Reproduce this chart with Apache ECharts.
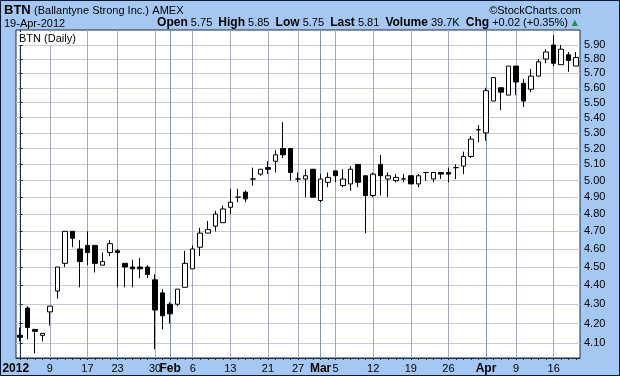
<!DOCTYPE html>
<html>
<head>
    <meta charset="utf-8">
    <title>BTN Daily</title>
    <script src="https://cdn.jsdelivr.net/npm/echarts@6/dist/echarts.min.js"></script>
</head>
<body>
<style>
    html, body {
        margin: 0;
        padding: 0;
        background: #a4c8f2;
    }
    #main {
        width: 620px;
        height: 376px;
    }
</style>
<div id="main"></div>
<script type="text/javascript">
    // trading days, 3 Jan - 19 Apr 2012
    var dates = [
        '2012-01-03', '2012-01-04', '2012-01-05', '2012-01-06', '2012-01-09', '2012-01-10', '2012-01-11', '2012-01-12',
        '2012-01-13', '2012-01-17', '2012-01-18', '2012-01-19', '2012-01-20', '2012-01-23', '2012-01-24', '2012-01-25',
        '2012-01-26', '2012-01-27', '2012-01-30', '2012-01-31', '2012-02-01', '2012-02-02', '2012-02-03', '2012-02-06',
        '2012-02-07', '2012-02-08', '2012-02-09', '2012-02-10', '2012-02-13', '2012-02-14', '2012-02-15', '2012-02-16',
        '2012-02-17', '2012-02-21', '2012-02-22', '2012-02-23', '2012-02-24', '2012-02-27', '2012-02-28', '2012-02-29',
        '2012-03-01', '2012-03-02', '2012-03-05', '2012-03-06', '2012-03-07', '2012-03-08', '2012-03-09', '2012-03-12',
        '2012-03-13', '2012-03-14', '2012-03-15', '2012-03-16', '2012-03-19', '2012-03-20', '2012-03-21', '2012-03-22',
        '2012-03-23', '2012-03-26', '2012-03-27', '2012-03-28', '2012-03-29', '2012-03-30', '2012-04-02', '2012-04-03',
        '2012-04-04', '2012-04-05', '2012-04-09', '2012-04-10', '2012-04-11', '2012-04-12', '2012-04-13', '2012-04-16',
        '2012-04-17', '2012-04-18', '2012-04-19'
    ];
    var opens = [
        4.14, 4.28, 4.17, 4.14, 4.26, 4.37, 4.52, 4.70, 4.60, 4.62, 4.62, 4.51, 4.58, 4.59, 4.52, 4.50, 4.50, 4.50, 4.43, 4.36,
        4.30, 4.30, 4.39, 4.49, 4.61, 4.69, 4.73, 4.75, 4.84, 4.90, 4.93, 5.01, 5.04, 5.08, 5.12, 5.20, 5.20, 5.01, 5.01, 5.07,
        4.88, 4.99, 5.06, 4.97, 4.98, 5.10, 5.03, 4.91, 5.10, 5.01, 5.00, 5.01, 5.03, 4.98, 5.05, 5.01, 5.05, 5.05, 5.08, 5.09,
        5.15, 5.32, 5.30, 5.51, 5.60, 5.55, 5.75, 5.63, 5.59, 5.68, 5.80, 5.90, 5.76, 5.83, 5.75
    ];
    var highs = [
        4.18, 4.29, 4.17, 4.15, 4.29, 4.50, 4.70, 4.70, 4.65, 4.70, 4.62, 4.58, 4.65, 4.60, 4.52, 4.54, 4.55, 4.51, 4.46, 4.38,
        4.31, 4.38, 4.59, 4.62, 4.72, 4.76, 4.82, 4.85, 4.95, 4.95, 4.94, 5.08, 5.07, 5.12, 5.19, 5.37, 5.20, 5.05, 5.07, 5.07,
        5.04, 5.05, 5.06, 5.07, 5.09, 5.10, 5.03, 5.05, 5.16, 5.05, 5.04, 5.04, 5.03, 5.04, 5.05, 5.05, 5.05, 5.08, 5.10, 5.18,
        5.28, 5.35, 5.60, 5.67, 5.60, 5.75, 5.75, 5.66, 5.73, 5.80, 5.87, 5.97, 5.90, 5.85, 5.85
    ];
    var lows = [
        4.11, 4.12, 4.05, 4.11, 4.19, 4.33, 4.50, 4.61, 4.39, 4.51, 4.47, 4.51, 4.56, 4.39, 4.39, 4.39, 4.44, 4.44, 4.07, 4.17,
        4.20, 4.29, 4.39, 4.49, 4.56, 4.69, 4.70, 4.75, 4.80, 4.87, 4.87, 4.97, 5.03, 5.04, 5.05, 5.14, 5.00, 4.99, 4.90, 4.90,
        4.87, 4.96, 4.99, 4.96, 4.94, 4.96, 4.69, 4.90, 4.91, 4.90, 4.99, 4.99, 4.98, 4.96, 5.00, 4.99, 5.01, 4.99, 5.01, 5.04,
        5.14, 5.24, 5.25, 5.51, 5.45, 5.55, 5.55, 5.47, 5.57, 5.68, 5.77, 5.75, 5.76, 5.71, 5.75
    ];
    var closes = [
        4.13, 4.18, 4.16, 4.15, 4.29, 4.50, 4.70, 4.66, 4.53, 4.58, 4.52, 4.53, 4.63, 4.58, 4.50, 4.49, 4.49, 4.46, 4.27, 4.24,
        4.25, 4.38, 4.52, 4.60, 4.69, 4.71, 4.80, 4.83, 4.87, 4.90, 4.89, 5.01, 5.07, 5.07, 5.16, 5.16, 5.05, 5.01, 5.03, 4.90,
        5.01, 5.02, 5.03, 5.01, 5.07, 4.99, 4.91, 5.04, 5.03, 5.03, 5.02, 5.01, 4.98, 5.03, 5.05, 5.05, 5.04, 5.04, 5.08, 5.15,
        5.26, 5.32, 5.58, 5.67, 5.57, 5.75, 5.64, 5.51, 5.68, 5.78, 5.85, 5.77, 5.87, 5.79, 5.81
    ];

    var priceTicks = [4.10, 4.20, 4.30, 4.40, 4.50, 4.60, 4.70, 4.80, 4.90, 5.00,
        5.10, 5.20, 5.30, 5.40, 5.50, 5.60, 5.70, 5.80, 5.90];
    var tickDates = ['2012-01-03', '2012-01-09', '2012-01-17', '2012-01-23', '2012-01-30', '2012-02-01',
        '2012-02-06', '2012-02-13', '2012-02-21', '2012-02-27', '2012-03-01', '2012-03-05', '2012-03-12',
        '2012-03-19', '2012-03-26', '2012-04-02', '2012-04-09', '2012-04-16'];
    var tickLabels = ['2012', '9', '17', '23', '30', 'Feb', '6', '13', '21', '27', 'Mar', '5', '12',
        '19', '26', 'Apr', '9', '16'];
    var monthDates = ['2012-01-03', '2012-02-01', '2012-03-01', '2012-04-02'];

    // log price scale, like stockcharts
    var yMin = 4.027, yMax = 6.009;
    var ln = Math.log;

    var candles = [];
    for (var i = 0; i < dates.length; i++) {
        candles.push([ln(opens[i]), ln(closes[i]), ln(lows[i]), ln(highs[i])]);
    }
    var minorTicks = [];
    for (var c = 403; c <= 600; c++) {
        minorTicks.push(ln(c / 100));
    }

    var font = '"Liberation Sans", Arial, sans-serif';
    var frame = '#1b2c48';
    var hLine = '#cbcbd8', weekLine = '#a9a9bd', monthLine = '#8192ab';

    function dayIndex(d) {
        return dates.indexOf(d);
    }
    var weekIdx = tickDates.filter(function (d) {
        return monthDates.indexOf(d) < 0;
    }).map(dayIndex);
    var monthIdx = monthDates.map(dayIndex);

    // hidden value axis over the day index (same span as the category bands),
    // only used to draw the vertical grid lines
    function gridAxis(idx, color) {
        return {
            type: 'value',
            position: 'bottom',
            min: -0.5,
            max: dates.length - 0.5,
            axisLine: {show: false},
            axisTick: {show: true, length: 0, customValues: idx},
            axisLabel: {show: false, customValues: idx},
            splitLine: {show: true, lineStyle: {color: color, width: 1}}
        };
    }

    var myChart = echarts.init(document.getElementById('main'), null, {renderer: 'canvas'});

    myChart.setOption({
        animation: false,
        backgroundColor: '#a4c8f2',
        textStyle: {fontFamily: font},
        grid: {
            left: 16, right: 40, top: 30, bottom: 18,
            show: true,
            backgroundColor: '#ffffff',
            borderColor: frame,
            borderWidth: 1,
            outerBoundsMode: 'none'
        },
        xAxis: [{
            type: 'category',
            data: dates,
            boundaryGap: true,
            axisLine: {show: true, lineStyle: {color: frame, width: 1}},
            axisTick: {show: true, interval: 0, length: 2, alignWithLabel: true, lineStyle: {color: frame}},
            axisLabel: {
                interval: function (index, value) {
                    return tickDates.indexOf(value) >= 0;
                },
                margin: 5,
                color: '#000',
                fontSize: 11,
                fontFamily: font,
                formatter: function (value) {
                    var k = tickDates.indexOf(value);
                    if (k === 0) return '{y|' + tickLabels[k] + '}';
                    if (monthDates.indexOf(value) >= 0) return '{b|' + tickLabels[k] + '}';
                    return tickLabels[k];
                },
                rich: {
                    b: {fontWeight: 'bold', fontSize: 12, fontFamily: font, color: '#000'},
                    y: {fontWeight: 'bold', fontSize: 12, fontFamily: font, color: '#000', padding: [0, 8, 0, 0]}
                }
            },
            splitLine: {show: false}
        },
            gridAxis(weekIdx, weekLine),
            gridAxis(monthIdx, monthLine)
        ],
        yAxis: [{
            type: 'value',
            position: 'right',
            min: ln(yMin),
            max: ln(yMax),
            axisLine: {show: true, lineStyle: {color: frame}},
            axisTick: {show: true, length: 3, customValues: priceTicks.map(ln), lineStyle: {color: frame}},
            axisLabel: {
                customValues: priceTicks.map(ln),
                margin: 4,
                color: '#000',
                fontSize: 11,
                fontFamily: font,
                formatter: function (v) {
                    return Math.exp(v).toFixed(2);
                }
            },
            splitLine: {show: true, lineStyle: {color: hLine, width: 1}}
        }, {
            type: 'value',
            position: 'right',
            min: ln(yMin),
            max: ln(yMax),
            axisLine: {show: false},
            axisTick: {show: true, length: 1, customValues: minorTicks, lineStyle: {color: frame}},
            axisLabel: {show: false},
            splitLine: {show: false}
        }],
        series: [{
            type: 'candlestick',
            name: 'BTN',
            xAxisIndex: 0,
            yAxisIndex: 0,
            data: candles,
            barWidth: 5,
            itemStyle: {
                color: '#ffffff',
                color0: '#000000',
                borderColor: '#000000',
                borderColor0: '#000000',
                borderColorDoji: '#000000',
                borderWidth: 1
            }
        }],
        graphic: [
            {
                type: 'rect', z: 100, silent: true,
                shape: {x: 0.5, y: 0.5, width: 619, height: 375},
                style: {fill: 'none', stroke: '#0c1830', lineWidth: 1}
            },
            {
                type: 'text', left: 4, top: 4, z: 100,
                style: {
                    text: '{t|BTN} {n|(Ballantyne Strong Inc.)} {n|AMEX}',
                    rich: {
                        t: {fontSize: 13, fontWeight: 'bold', fontFamily: font, fill: '#000'},
                        n: {fontSize: 11, fontFamily: font, fill: '#000'}
                    }
                }
            },
            {
                type: 'text', right: 39, top: 5, z: 100,
                style: {text: '\u00a9StockCharts.com', fontSize: 11, fontFamily: font, fill: '#000'}
            },
            {
                type: 'text', left: 4, top: 18, z: 100,
                style: {text: '19-Apr-2012', fontSize: 11, fontFamily: font, fill: '#000'}
            },
            {
                type: 'text', right: 52, top: 17, z: 100,
                style: {
                    text: '{b|Open} 5.75  {b|High} 5.85  {b|Low} 5.75  {b|Last} 5.81  {b|Volume} 39.7K  {b|Chg} +0.02 (+0.35%)',
                    fontSize: 11, fontFamily: font, fill: '#000',
                    rich: {
                        b: {fontSize: 12, fontWeight: 'bold', fontFamily: font, fill: '#000'}
                    }
                }
            },
            {
                type: 'text', right: 42, top: 19, z: 100,
                style: {text: '\u25b2', fontSize: 8, fontFamily: 'DejaVu Sans', fill: '#2e8b3a'}
            },
            {
                type: 'text', left: 18, top: 32, z: 100,
                style: {
                    text: 'BTN (Daily)', fontSize: 11, fontFamily: font, fill: '#000',
                    backgroundColor: '#ffffff', padding: [1, 2, 1, 1]
                }
            }
        ]
    });
</script>
</body>
</html>
